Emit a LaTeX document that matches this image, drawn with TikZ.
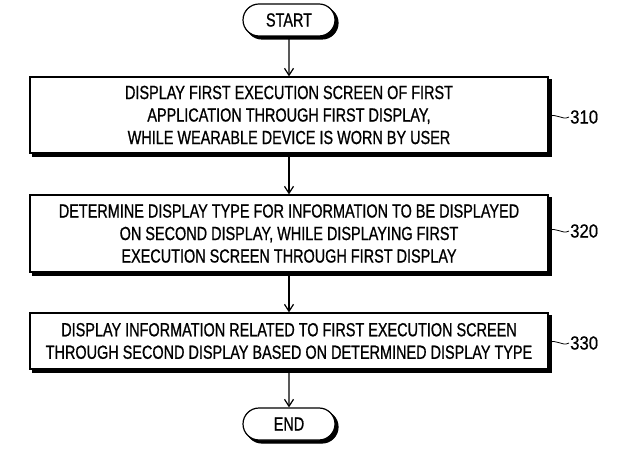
\documentclass[tikz,border=0pt]{standalone}
\usepackage{fontspec}
\setmainfont{Liberation Sans}[FakeStretch=0.76,FakeBold=0.8]
\newfontfamily\reffont{Liberation Sans}[FakeStretch=0.88,FakeBold=0.6]
\usetikzlibrary{arrows.meta,shapes.misc}
\begin{document}
\begin{tikzpicture}[x=1bp,y=-1bp,
        boxshadow/.style={preaction={fill=black, draw=black, line width=1.2bp, transform canvas={shift={(3bp,-3bp)}}}},
        stepbox/.style={rectangle, draw=black, line width=1.2bp, fill=white, align=center, inner sep=0pt, minimum width=518bp, font=\fontsize{19bp}{22.5bp}\selectfont, boxshadow},
        terminal/.style={rounded rectangle, draw=black, line width=1.2bp, fill=white, inner sep=0pt, minimum width=92bp, minimum height=32bp, font=\fontsize{19bp}{22bp}\selectfont, boxshadow},
        flow/.style={draw=black, line width=1.2bp, -{Straight Barb[length=7bp,width=9bp,line width=1.2bp]}},
        refnum/.style={font=\reffont\fontsize{19bp}{22bp}\selectfont, inner sep=1bp, anchor=west}]
                \useasboundingbox (0,0) rectangle (619,466);

                \node [terminal] (start) at (289,20) {START};
                \node [stepbox, minimum height=76bp] (s310) at (289,115) {DISPLAY FIRST EXECUTION SCREEN OF FIRST\\APPLICATION THROUGH FIRST DISPLAY,\\WHILE WEARABLE DEVICE IS WORN BY USER};
                \node [stepbox, minimum height=77bp] (s320) at (289,233.5) {DETERMINE DISPLAY TYPE FOR INFORMATION TO BE DISPLAYED\\ON SECOND DISPLAY, WHILE DISPLAYING FIRST\\EXECUTION SCREEN THROUGH FIRST DISPLAY};
                \node [stepbox, minimum height=56bp] (s330) at (289,341) {DISPLAY INFORMATION RELATED TO FIRST EXECUTION SCREEN\\THROUGH SECOND DISPLAY BASED ON DETERMINED DISPLAY TYPE};
                \node [terminal] (end) at (289,424) {END};

                \draw [flow] (start) -- (s310);
                \draw [flow] (s310) -- (s320);
                \draw [flow] (s320) -- (s330);
                \draw [flow] (s330) -- (end);

                \node [refnum] (r310) at (569,117) {310};
                \node [refnum] (r320) at (569,231) {320};
                \node [refnum] (r330) at (569,343) {330};

                \draw [line width=0.8bp] (s310.east |- r310.west) .. controls +(7,-5) and +(-7,4) .. (r310.west);
                \draw [line width=0.8bp] (s320.east |- r320.west) .. controls +(7,-5) and +(-7,4) .. (r320.west);
                \draw [line width=0.8bp] (s330.east |- r330.west) .. controls +(7,-5) and +(-7,4) .. (r330.west);
            \end{tikzpicture}
\end{document}
